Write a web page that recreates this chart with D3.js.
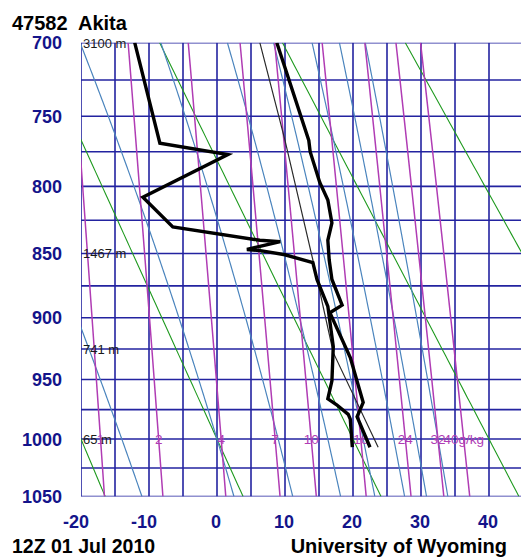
<!DOCTYPE html>
<html>
<head>
<meta charset="utf-8">
<script src="https://cdn.jsdelivr.net/npm/d3@7"></script>
<style>
  body { margin: 0; background: #fff; }
  svg { display: block; }
</style>
</head>
<body>
<svg id="stuve"></svg>
<script>
const width = 521, height = 559;
const font_family = "'Liberation Sans', Arial, sans-serif";
const grid_color = "#2323a0", label_color = "#14148a";
const dry_color = "#1f9a1f", moist_color = "#4a84bd", mix_color = "#b03cb4";

// axes
const isobars = [700, 725, 750, 775, 800, 825, 850, 875, 900, 925, 950, 975, 1000, 1025, 1050];
const pressureLabels = [700, 750, 800, 850, 900, 950, 1000, 1050];
const isotherms = [-20, -15, -10, -5, 0, 5, 10, 15, 20, 25, 30, 35, 40, 45];
const tempLabels = [-20, -10, 0, 10, 20, 30, 40];

// background lines
const dryTheta = [-20, 0, 20, 40, 60];                    // potential temperature, C
const moistThetaW = [-14, 0, 9, 16.3, 21.5, 26, 29.3, 32.5]; // T at 1000 hPa, C
const mixRatios = [1, 2, 4, 7, 10, 16, 24, 32, 40];       // g/kg
const mixLabels = ["1", "2", "4", "7", "10", "16", "24", "32", "40g/kg"];

// heights of standard levels
const heightP = [700, 850, 925, 1000];
const heightLabels = ["3100 m", "1467 m", "741 m", "65 m"];

// sounding: temperature
const tempP = [700, 767, 775, 797, 810, 827, 840, 855, 870, 890, 896, 932, 969, 981, 1007];
const tempT = [8.8, 13.5, 13.7, 15.1, 16.3, 16.9, 16.3, 16.5, 16.9, 18.4, 16.6, 19.6, 21.5, 20.6, 22.5];
// sounding: dew point
const dewP = [700, 769, 777, 808, 830, 840, 841, 847, 848, 851, 857, 870, 891, 923, 951, 966, 971, 979, 983, 1007];
const dewT = [-12.1, -8.4, 1.6, -10.9, -6.5, 6.3, 9.3, 4.4, 6.6, 10.0, 14.1, 14.7, 16.3, 17.1, 16.9, 16.3, 17.6, 19.3, 19.6, 19.9];
// lifted parcel
const parcelP = [700, 767, 855, 928, 1007];
const parcelT = [6.3, 10.0, 14.1, 17.1, 23.7];

const svg = d3.select("#stuve")
  .attr("width", width)
  .attr("height", height);

svg.append("rect").attr("width", width).attr("height", height).attr("fill", "#fff");

const x = d3.scaleLinear().domain([-20, 45]).range([81, 81 + 65 * 6.8]);
const y = d3.scalePow().exponent(0.286).domain([700, 1050]).range([42.7, 496.5]);

svg.append("clipPath").attr("id", "plot-clip")
  .append("rect")
  .attr("x", x(-20)).attr("y", y(700))
  .attr("width", width - x(-20)).attr("height", y(1050) - y(700));

const plot = svg.append("g").attr("clip-path", "url(#plot-clip)");

////////////////////////////////////
//              Grid              //
////////////////////////////////////

plot.selectAll(".isobar")
  .data(isobars)
  .enter().append("line")
  .attr("x1", x(-20)).attr("x2", width)
  .attr("y1", d => y(d)).attr("y2", d => y(d))
  .attr("stroke", grid_color)
  .attr("stroke-width", 1.6);

plot.selectAll(".isotherm")
  .data(isotherms)
  .enter().append("line")
  .attr("x1", d => x(d)).attr("x2", d => x(d))
  .attr("y1", y(700)).attr("y2", y(1050))
  .attr("stroke", grid_color)
  .attr("stroke-width", 1.6);

////////////////////////////////////
//       Adiabats / mixing        //
////////////////////////////////////

const line = d3.line().x(d => x(d[1])).y(d => y(d[0]));
const levels = d3.range(700, 1050.1, 5);

// dry adiabats
plot.selectAll(".dry")
  .data(dryTheta)
  .enter().append("path")
  .attr("d", th => line(levels.map(p => [p, (th + 273.15) * Math.pow(p / 1000, 0.286) - 273.15])))
  .attr("fill", "none")
  .attr("stroke", dry_color)
  .attr("stroke-width", 1.1);

// moist (pseudo) adiabats, integrated from 1000 hPa
const Rd = 287.04, cp = 1005.7, Lv = 2.501e6, eps = 0.622;
function es(TK) { return 6.112 * Math.exp(17.67 * (TK - 273.15) / (TK - 29.65)); }
function dTdp(p, TK) {
  const e = es(TK), rs = eps * e / (p - e);
  return ((Rd * TK + Lv * rs) / p) / (cp + (Lv * Lv * rs * eps) / (Rd * TK * TK));
}
function moistPath(tw) {
  const pts = [[1000, tw]];
  let TK = tw + 273.15;
  for (let p = 1000; p > 700; p -= 2) {
    const k1 = dTdp(p, TK), k2 = dTdp(p - 1, TK - k1);
    TK -= k2 * 2;
    pts.push([p - 2, TK - 273.15]);
  }
  TK = tw + 273.15;
  const down = [];
  for (let p = 1000; p < 1050; p += 2) {
    const k1 = dTdp(p, TK), k2 = dTdp(p + 1, TK + k1);
    TK += k2 * 2;
    down.push([p + 2, TK - 273.15]);
  }
  return down.reverse().concat(pts);
}
plot.selectAll(".moist")
  .data(moistThetaW)
  .enter().append("path")
  .attr("d", tw => line(moistPath(tw)))
  .attr("fill", "none")
  .attr("stroke", moist_color)
  .attr("stroke-width", 1.2);

// saturation mixing ratio lines
function mixT(w, p) {
  const e = w * p / (622 + w), a = Math.log(e / 6.112);
  return 243.5 * a / (17.67 - a);
}
plot.selectAll(".mix")
  .data(mixRatios)
  .enter().append("path")
  .attr("d", w => line(levels.map(p => [p, mixT(w, p)])))
  .attr("fill", "none")
  .attr("stroke", mix_color)
  .attr("stroke-width", 1.5);

plot.selectAll(".mix-label")
  .data(mixRatios)
  .enter().append("text")
  .attr("x", w => x(mixT(w, 1000)))
  .attr("y", y(1000) + 5)
  .attr("text-anchor", "middle")
  .attr("font-family", font_family)
  .attr("font-size", "13.5px")
  .attr("fill", mix_color)
  .text((w, i) => mixLabels[i]);

////////////////////////////////////
//            Sounding            //
////////////////////////////////////

plot.append("path")
  .attr("d", line(parcelP.map((p, i) => [p, parcelT[i]])))
  .attr("fill", "none")
  .attr("stroke", "#2a2a2a")
  .attr("stroke-width", 1.2);

plot.append("path")
  .attr("d", line(dewP.map((p, i) => [p, dewT[i]])))
  .attr("fill", "none")
  .attr("stroke", "#000")
  .attr("stroke-width", 3.4)
  .attr("stroke-linejoin", "miter");

plot.append("path")
  .attr("d", line(tempP.map((p, i) => [p, tempT[i]])))
  .attr("fill", "none")
  .attr("stroke", "#000")
  .attr("stroke-width", 3.4)
  .attr("stroke-linejoin", "miter");

////////////////////////////////////
//         Height labels          //
////////////////////////////////////

svg.selectAll(".height-label")
  .data(heightP)
  .enter().append("text")
  .attr("x", x(-20) + 2)
  .attr("y", d => y(d) + 5)
  .attr("font-family", font_family)
  .attr("font-size", "13px")
  .attr("fill", "#1a1a1a")
  .text((d, i) => heightLabels[i]);

////////////////////////////////////
//          Axis labels           //
////////////////////////////////////

svg.selectAll(".p-label")
  .data(pressureLabels)
  .enter().append("text")
  .attr("x", 62)
  .attr("y", d => y(d) + 6.5)
  .attr("text-anchor", "end")
  .attr("font-family", font_family)
  .attr("font-size", "18px")
  .attr("font-weight", "bold")
  .attr("fill", label_color)
  .text(d => d);

svg.selectAll(".t-label")
  .data(tempLabels)
  .enter().append("text")
  .attr("x", d => x(d) - 1 - (d < 0 ? 4 : 0))
  .attr("y", 528)
  .attr("text-anchor", "middle")
  .attr("font-family", font_family)
  .attr("font-size", "18px")
  .attr("font-weight", "bold")
  .attr("fill", label_color)
  .text(d => d);

// titles
svg.append("text")
  .attr("x", 12).attr("y", 30)
  .attr("font-family", font_family)
  .attr("font-size", "20px")
  .attr("font-weight", "bold")
  .attr("fill", "#000")
  .attr("xml:space", "preserve")
  .text("47582  Akita");

svg.append("text")
  .attr("x", 12).attr("y", 553)
  .attr("font-family", font_family)
  .attr("font-size", "19.5px")
  .attr("font-weight", "bold")
  .attr("fill", "#000")
  .text("12Z 01 Jul 2010");

svg.append("text")
  .attr("x", 507).attr("y", 553)
  .attr("text-anchor", "end")
  .attr("font-family", font_family)
  .attr("font-size", "20px")
  .attr("font-weight", "bold")
  .attr("fill", "#000")
  .text("University of Wyoming");
</script>
</body>
</html>
